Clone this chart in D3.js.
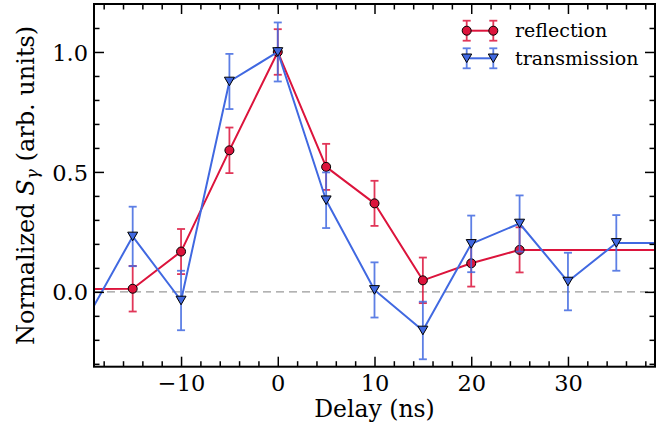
<!DOCTYPE html>
<html>
<head>
<meta charset="utf-8">
<script src="https://cdn.jsdelivr.net/npm/d3@7"></script>
<style>
  html, body { margin: 0; padding: 0; background: #fff; }
  svg { display: block; }
  text { font-family: "DejaVu Serif", serif; fill: #000; }
</style>
</head>
<body>
<svg id="chart" width="665" height="432"></svg>
<script>
// ---- data ----
const reflDelay = [-20, -15, -10, -5, 0, 5, 10, 15, 20, 25, 40];
const reflValue = [0.012, 0.013, 0.168, 0.590, 1.0, 0.521, 0.369, 0.048, 0.119, 0.175, 0.175];
const reflError = [0.095, 0.095, 0.094, 0.095, 0.095, 0.096, 0.094, 0.095, 0.097, 0.094, 0.095];

const transDelay = [-20, -15, -10, -5, 0, 5, 10, 15, 20, 25, 30, 35, 40];
const transValue = [-0.130, 0.231, -0.036, 0.877, 1.0, 0.382, 0.008, -0.161, 0.200, 0.285, 0.043, 0.204, 0.204];
const transError = [0.12, 0.124, 0.124, 0.115, 0.123, 0.116, 0.115, 0.12, 0.118, 0.117, 0.12, 0.116, 0.12];

const xMajorTicks = [-10, 0, 10, 20, 30];
const xMinorTicks = d3.range(-18, 39, 2).filter(v => v % 10 !== 0);
const yMajorTicks = [0.0, 0.5, 1.0];
const yMinorTicks = [-0.3, -0.2, -0.1, 0.1, 0.2, 0.3, 0.4, 0.6, 0.7, 0.8, 0.9, 1.1];
const legendLabels = ["reflection", "transmission"];

const RED = "#dc143c";
const BLUE = "#4169e1";

// ---- layout ----
const W = 665, H = 432;
const L = 94, R = 655, T = 4, B = 366.7;

const svg = d3.select("#chart");
const x = d3.scaleLinear().domain([-19, 39]).range([L, R]);
const y = d3.scaleLinear().domain([-0.312, 1.2]).range([B, T]);

svg.append("defs").append("clipPath").attr("id", "clip")
  .append("rect").attr("x", L).attr("y", T).attr("width", R - L).attr("height", B - T);

// zero line
svg.append("line")
  .attr("x1", L).attr("x2", R).attr("y1", y(0)).attr("y2", y(0))
  .attr("stroke", "#999").attr("stroke-width", 1.3).attr("stroke-dasharray", "8,5");

const plot = svg.append("g").attr("clip-path", "url(#clip)");

function drawSeries(xs, vs, es, color, marker) {
  const pts = xs.map((d, i) => ({x: d, v: vs[i], e: es[i]}));
  const g = plot.append("g");
  g.append("path").datum(pts)
    .attr("fill", "none").attr("stroke", color).attr("stroke-width", 2)
    .attr("stroke-linejoin", "round")
    .attr("d", d3.line().x(d => x(d.x)).y(d => y(d.v)));
  const eb = g.append("g").attr("stroke", color).attr("stroke-width", 1.8).attr("opacity", 0.85);
  pts.forEach(d => {
    const cx = x(d.x);
    eb.append("line").attr("x1", cx).attr("x2", cx).attr("y1", y(d.v - d.e)).attr("y2", y(d.v + d.e));
    eb.append("line").attr("x1", cx - 4).attr("x2", cx + 4).attr("y1", y(d.v - d.e)).attr("y2", y(d.v - d.e));
    eb.append("line").attr("x1", cx - 4).attr("x2", cx + 4).attr("y1", y(d.v + d.e)).attr("y2", y(d.v + d.e));
  });
  pts.forEach(d => drawMarker(g, x(d.x), y(d.v), color, marker));
}

function drawMarker(g, cx, cy, color, marker) {
  if (marker === "circle") {
    g.append("circle").attr("cx", cx).attr("cy", cy).attr("r", 4.5)
      .attr("fill", color).attr("stroke", "#000").attr("stroke-width", 1);
  } else {
    const w = 5, h = 4.3;
    g.append("path")
      .attr("d", `M${cx - w},${cy - h}L${cx + w},${cy - h}L${cx},${cy + h}Z`)
      .attr("fill", color).attr("stroke", "#000").attr("stroke-width", 1)
      .attr("stroke-linejoin", "miter");
  }
}

drawSeries(reflDelay, reflValue, reflError, RED, "circle");
drawSeries(transDelay, transValue, transError, BLUE, "triangle");

// ---- axes (inward ticks, mirrored) ----
const FS = 22.5;
function styleAxis(g) {
  g.select(".domain").remove();
  g.selectAll(".tick line").attr("stroke", "#000").attr("stroke-width", 1.5);
  g.selectAll("text").style("font-family", "DejaVu Serif").style("font-size", FS + "px");
}
const fmtX = d => d < 0 ? "\u2212" + Math.abs(d) : String(d);

const xb = svg.append("g").attr("transform", `translate(0,${B})`)
  .call(d3.axisBottom(x).tickValues(xMajorTicks).tickSize(-10).tickFormat(fmtX));
styleAxis(xb);
xb.selectAll("text").attr("y", 24.3).attr("dy", 0);
const xbm = svg.append("g").attr("transform", `translate(0,${B})`)
  .call(d3.axisBottom(x).tickValues(xMinorTicks).tickSize(-5.5).tickFormat(""));
styleAxis(xbm);
const xt = svg.append("g").attr("transform", `translate(0,${T})`)
  .call(d3.axisTop(x).tickValues(xMajorTicks).tickSize(-10).tickFormat(""));
styleAxis(xt);
const xtm = svg.append("g").attr("transform", `translate(0,${T})`)
  .call(d3.axisTop(x).tickValues(xMinorTicks).tickSize(-5.5).tickFormat(""));
styleAxis(xtm);

const yl = svg.append("g").attr("transform", `translate(${L},0)`)
  .call(d3.axisLeft(y).tickValues(yMajorTicks).tickSize(-10).tickFormat(d3.format(".1f")));
styleAxis(yl);
yl.selectAll("text").attr("x", -6).attr("dy", "0.36em");
const ylm = svg.append("g").attr("transform", `translate(${L},0)`)
  .call(d3.axisLeft(y).tickValues(yMinorTicks).tickSize(-5.5).tickFormat(""));
styleAxis(ylm);
const yr = svg.append("g").attr("transform", `translate(${R},0)`)
  .call(d3.axisRight(y).tickValues(yMajorTicks).tickSize(-10).tickFormat(""));
styleAxis(yr);
const yrm = svg.append("g").attr("transform", `translate(${R},0)`)
  .call(d3.axisRight(y).tickValues(yMinorTicks).tickSize(-5.5).tickFormat(""));
styleAxis(yrm);

// frame
svg.append("rect").attr("x", L).attr("y", T).attr("width", R - L).attr("height", B - T)
  .attr("fill", "none").attr("stroke", "#000").attr("stroke-width", 2);

// ---- axis labels ----
svg.append("text").attr("x", (L + R) / 2).attr("y", 417)
  .attr("text-anchor", "middle").style("font-size", "23.5px").text("Delay (ns)");

const ylab = svg.append("text")
  .attr("transform", `translate(34,${(T + B) / 2}) rotate(-90)`)
  .attr("text-anchor", "middle").style("font-size", "24px");
ylab.append("tspan").text("Normalized ");
ylab.append("tspan").style("font-style", "italic").text("S");
ylab.append("tspan").style("font-style", "italic").style("font-size", "17px").attr("dy", 4).text("\u03b3");
ylab.append("tspan").attr("dy", -4).text(" (arb. units)");

// ---- legend ----
const legendItems = [
  {label: legendLabels[0], color: RED, marker: "circle", y: 30.7},
  {label: legendLabels[1], color: BLUE, marker: "triangle", y: 58.3}
];
const lg = svg.append("g");
legendItems.forEach(it => {
  const x1 = 466.7, x2 = 493.3;
  lg.append("line").attr("x1", x1).attr("x2", x2).attr("y1", it.y).attr("y2", it.y)
    .attr("stroke", it.color).attr("stroke-width", 2);
  [x1, x2].forEach(cx => {
    const e = lg.append("g").attr("stroke", it.color).attr("stroke-width", 1.8).attr("opacity", 0.85);
    e.append("line").attr("x1", cx).attr("x2", cx).attr("y1", it.y - 10).attr("y2", it.y + 10);
    e.append("line").attr("x1", cx - 4).attr("x2", cx + 4).attr("y1", it.y - 10).attr("y2", it.y - 10);
    e.append("line").attr("x1", cx - 4).attr("x2", cx + 4).attr("y1", it.y + 10).attr("y2", it.y + 10);
    drawMarker(lg, cx, it.y, it.color, it.marker);
  });
  lg.append("text").attr("x", 515).attr("y", it.y).attr("dy", "0.35em")
    .style("font-size", "19px").text(it.label);
});
</script>
</body>
</html>
